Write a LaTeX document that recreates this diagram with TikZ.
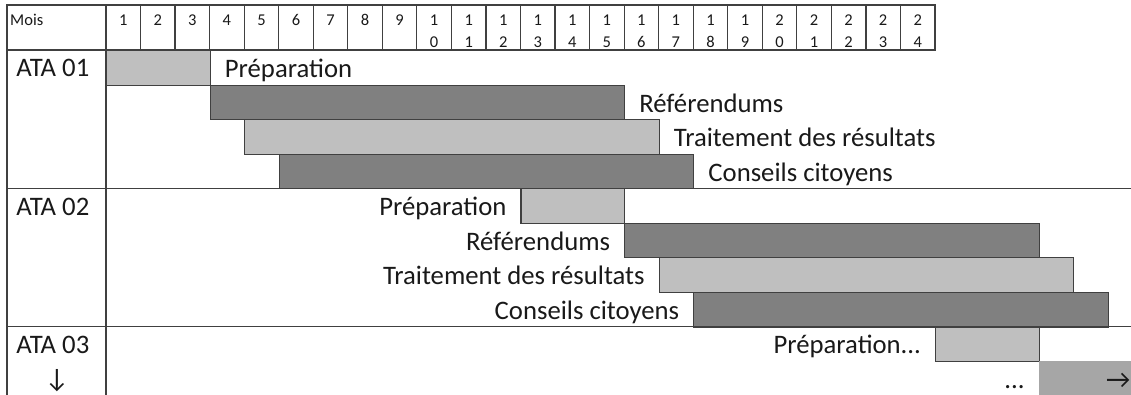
\documentclass[tikz,border=0pt]{standalone}
\usepackage{fontspec}
\setmainfont{Carlito}
\usepackage{tikz}
\usetikzlibrary{positioning}

\definecolor{barclair}{HTML}{BFBFBF}
\definecolor{barfonce}{HTML}{808080}
\definecolor{barsuite}{HTML}{A6A6A6}
\definecolor{trait}{HTML}{404040}

\begin{document}
\begin{tikzpicture}[
    grille/.style={draw=trait, line width=1pt},
    barre/.style={rectangle, draw=trait, line width=1pt, inner sep=0pt, minimum height=1cm, anchor=north west},
    clair/.style={barre, fill=barclair},
    fonce/.style={barre, fill=barfonce},
    etiq/.style={inner sep=0pt, text height=0.6cm, text depth=0.04cm, text=black!90, font=\fontsize{22}{26}\selectfont},
    mois/.style={inner sep=0pt, anchor=base, text=black!90, font=\fontsize{13.6}{18}\selectfont}]

\useasboundingbox (-3.069,-9.96) rectangle (29.675,1.448);

\draw[grille] (-2.866,1.303) rectangle (24,0);
\foreach \x in {0,...,23} \draw[grille] (\x,1.303) -- (\x,0);
\draw[grille] (-2.866,0) -- (-2.866,-10.2);
\draw[grille] (0,0) -- (0,-10.2);
\draw[grille] (-2.866,-4) -- (29.8,-4);
\draw[grille] (-2.866,-8) -- (29.8,-8);

\node[mois, anchor=base west] (mois) at (-2.78,0.724) {Mois};
\foreach \m in {1,...,9} \node[mois] (m\m) at (\m-0.5,0.724) {\m};
\foreach \m in {10,...,24} {
    \pgfmathtruncatemacro{\diz}{\m/10}
    \pgfmathtruncatemacro{\uni}{\m-10*\diz}
    \node[mois] (m\m) at (\m-0.5,0.724) {\diz};
    \node[mois] (u\m) at (\m-0.5,0.087) {\uni};
}

\node[clair, minimum width=3cm] (prep1) at (0,0) {};
\node[fonce, minimum width=12cm] (ref1) at (3,-1) {};
\node[clair, minimum width=12cm] (trait1) at (4,-2) {};
\node[fonce, minimum width=12cm] (cons1) at (5,-3) {};

\node[clair, minimum width=3cm] (prep2) at (12,-4) {};
\node[fonce, minimum width=12cm] (ref2) at (15,-5) {};
\node[clair, minimum width=12cm] (trait2) at (16,-6) {};
\node[fonce, minimum width=12cm] (cons2) at (17,-7) {};

\node[clair, minimum width=3cm] (prep3) at (24,-8) {};
\node[rectangle, fill=barsuite, inner sep=0pt, minimum height=1cm, minimum width=2.75cm, anchor=north west] (suite3) at (27,-9) {};

\node[etiq, anchor=west] (ata1) at (-2.6,-0.5) {ATA 01};
\node[etiq, anchor=west] (ata2) at (-2.6,-4.5) {ATA 02};
\node[etiq, anchor=west] (ata3) at (-2.6,-8.5) {ATA 03};
\node[etiq] (bas3) at (-1.42,-9.5) {↓};

\node[etiq, right=0.4cm of prep1] (lprep1) {Préparation};
\node[etiq, right=0.4cm of ref1] (lref1) {Référendums};
\node[etiq, right=0.4cm of trait1] (ltrait1) {Traitement des résultats};
\node[etiq, right=0.4cm of cons1] (lcons1) {Conseils citoyens};

\node[etiq, left=0.4cm of prep2] (lprep2) {Préparation};
\node[etiq, left=0.4cm of ref2] (lref2) {Référendums};
\node[etiq, left=0.4cm of trait2] (ltrait2) {Traitement des résultats};
\node[etiq, left=0.4cm of cons2] (lcons2) {Conseils citoyens};

\node[etiq, left=0.4cm of prep3] (lprep3) {Préparation...};
\node[etiq, left=0.4cm of suite3] (lsuite3) {...};
\node[etiq, anchor=east] (fleche) at ([xshift=-0.1cm]suite3.east) {→};

\end{tikzpicture}
\end{document}
